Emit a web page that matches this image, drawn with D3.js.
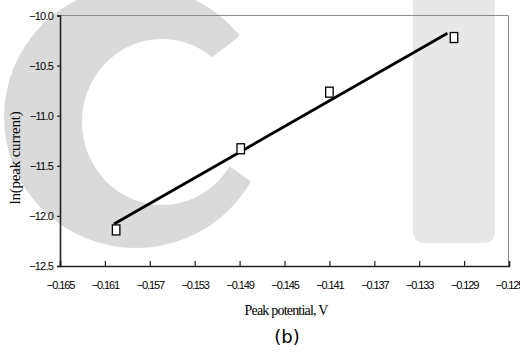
<!DOCTYPE html>
<html>
<head>
<meta charset="utf-8">
<script src="https://cdn.jsdelivr.net/npm/d3@7"></script>
<style>
  body { margin: 0; background: #fff; }
  svg { display: block; }
</style>
</head>
<body>
<div class="chart"></div>
<script>
// data
var peakPotential = [-0.1600, -0.1489, -0.1410, -0.1299];
var lnPeakCurrent = [-12.14, -11.33, -10.765, -10.22];

// fitted straight line (end points)
var fitX = [-0.16019, -0.13048];
var fitY = [-12.08, -10.178];

var xTicks = [-0.165, -0.161, -0.157, -0.153, -0.149, -0.145, -0.141, -0.137, -0.133, -0.129, -0.125];
var yTicks = [-10.0, -10.5, -11.0, -11.5, -12.0, -12.5];

var svgWidth = 520, svgHeight = 352;
var margin = { top: 15.5, right: 11, bottom: 86, left: 60 };
var width = svgWidth - margin.left - margin.right;
var height = svgHeight - margin.top - margin.bottom;

var svg = d3.select(".chart")
    .append("svg")
    .attr("width", svgWidth)
    .attr("height", svgHeight);

// watermark in the background
var wm = svg.append("g");
wm.append("clipPath").attr("id", "cclip")
    .append("path")
    .attr("d", "M147,108 L456,-132 L-100,-132 L-100,400 L465,333 Z");
wm.append("path")
    .attr("clip-path", "url(#cclip)")
    .attr("fill-rule", "evenodd")
    .attr("fill", "#dadada")
    .attr("d", ellipse(136, 117, 132, 131) + ellipse(162, 122, 80, 83));
wm.append("path")
    .attr("fill", "#e8e8e8")
    .attr("d", "M413,-5 L495,-5 L495,231 Q495,243 483,243 L425,243 Q413,243 413,231 Z");

function ellipse(cx, cy, rx, ry) {
    return "M" + (cx - rx) + "," + cy +
        " a" + rx + "," + ry + " 0 1,0 " + (2 * rx) + ",0" +
        " a" + rx + "," + ry + " 0 1,0 " + (-2 * rx) + ",0 Z";
}

var chartGroup = svg.append("g")
    .attr("transform", `translate(${margin.left}, ${margin.top})`);

var x = d3.scaleLinear().domain([-0.165, -0.125]).range([0, width]);
var y = d3.scaleLinear().domain([-12.5, -10.0]).range([height, 0]);

// top / right frame
chartGroup.append("path")
    .attr("d", `M0,0 H${width - 0.5} V${height}`)
    .attr("fill", "none")
    .attr("stroke", "#8c8c8c")
    .attr("stroke-width", 1);

var tickFont = "'Liberation Sans', Arial, sans-serif";

// x axis, ticks pointing inward
var xAxis = d3.axisBottom(x)
    .tickValues(xTicks)
    .tickSize(-5)
    .tickPadding(15)
    .tickFormat(d => d3.format(".3f")(d).replace("-", "\u2013"));
var gx = chartGroup.append("g")
    .attr("transform", `translate(0, ${height})`)
    .call(xAxis);
gx.select(".domain").attr("stroke", "#222").attr("stroke-width", 1.6);
gx.selectAll(".tick line").attr("stroke", "#222").attr("stroke-width", 1.2);
gx.selectAll(".tick text")
    .attr("font-family", tickFont)
    .attr("font-size", 11)
    .attr("letter-spacing", "-1.1px")
    .attr("fill", "#000");

// y axis
var yAxis = d3.axisLeft(y)
    .tickValues(yTicks)
    .tickSize(3)
    .tickPadding(4)
    .tickFormat(d => d3.format(".1f")(d).replace("-", "\u2013"));
var gy = chartGroup.append("g").call(yAxis);
gy.select(".domain").attr("stroke", "#222").attr("stroke-width", 1.6);
gy.selectAll(".tick line").attr("stroke", "#222").attr("stroke-width", 1.2);
gy.selectAll(".tick text")
    .attr("font-family", tickFont)
    .attr("font-size", 11)
    .attr("letter-spacing", "-0.8px")
    .attr("fill", "#000");

// fitted line
var line = d3.line()
    .x(d => x(d[0]))
    .y(d => y(d[1]));
chartGroup.append("path")
    .datum(d3.zip(fitX, fitY))
    .attr("d", line)
    .attr("fill", "none")
    .attr("stroke", "#000")
    .attr("stroke-width", 2.8);

// open square markers
var pts = d3.zip(peakPotential, lnPeakCurrent);
chartGroup.selectAll("rect.pt")
    .data(pts)
    .enter()
    .append("rect")
    .attr("class", "pt")
    .attr("x", d => x(d[0]) - 3.75)
    .attr("y", d => y(d[1]) - 5)
    .attr("width", 7.5)
    .attr("height", 10)
    .attr("fill", "#fff")
    .attr("stroke", "#000")
    .attr("stroke-width", 1.3);

// axis titles
svg.append("text")
    .attr("x", 286)
    .attr("y", 315)
    .attr("text-anchor", "middle")
    .attr("font-family", "'Liberation Serif', 'Times New Roman', serif")
    .attr("font-size", 14)
    .attr("letter-spacing", "-0.8px")
    .text("Peak potential, V");

svg.append("text")
    .attr("transform", "translate(20, 158) rotate(-90)")
    .attr("text-anchor", "middle")
    .attr("font-family", "'Liberation Serif', 'Times New Roman', serif")
    .attr("font-size", 15)
    .attr("letter-spacing", "-0.2px")
    .text("ln(peak current)");

svg.append("text")
    .attr("x", 287)
    .attr("y", 343)
    .attr("text-anchor", "middle")
    .attr("font-family", "'DejaVu Sans', sans-serif")
    .attr("font-size", 18)
    .text("(b)");
</script>
</body>
</html>
